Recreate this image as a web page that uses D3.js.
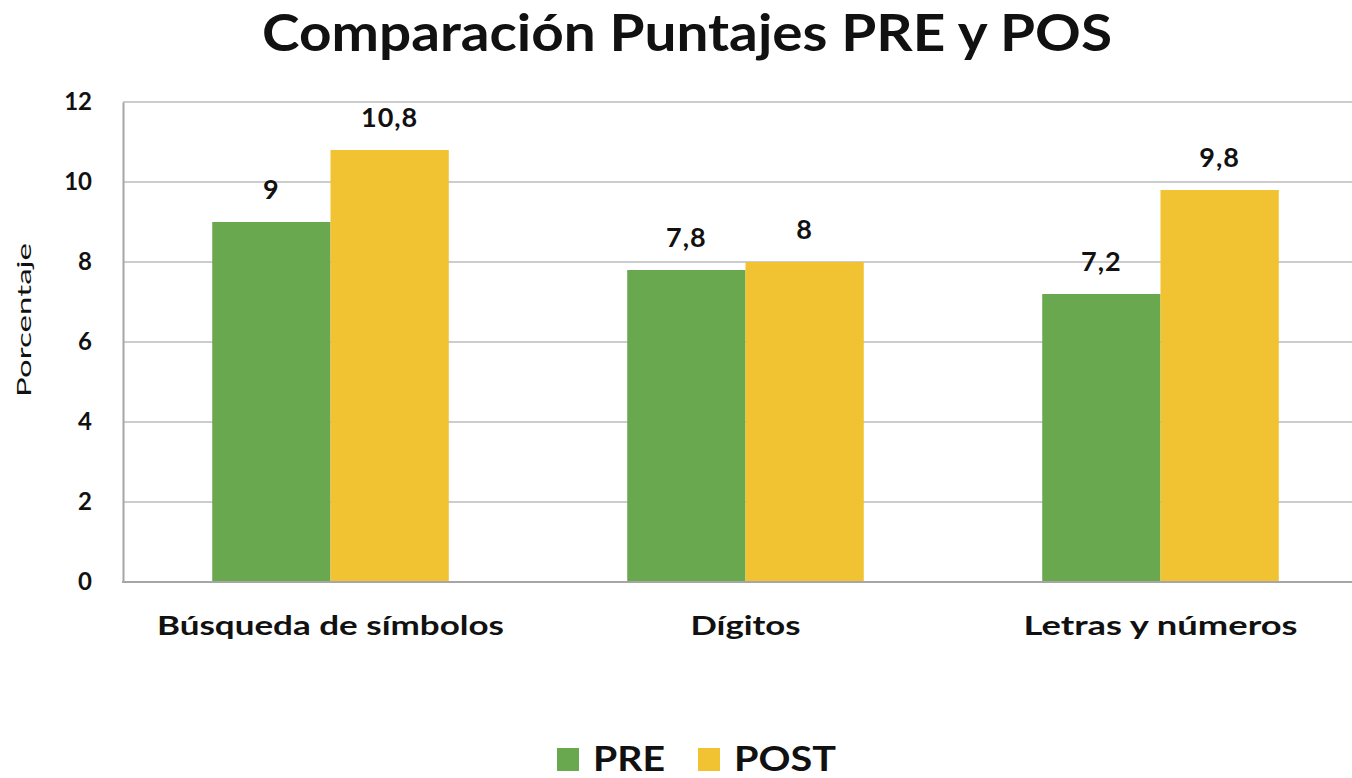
<!DOCTYPE html>
<html>
<head>
<meta charset="utf-8">
<script src="https://cdn.jsdelivr.net/npm/d3@7"></script>
<style>
  body { margin: 0; background: #fff; }
  text { font-family: "Lato", "Noto Sans", sans-serif; fill: #111; }
</style>
</head>
<body>
<div id="chart"></div>
<script>
// data
var categories = ["Búsqueda de símbolos", "Dígitos", "Letras y números"];
var series = ["PRE", "POST"];
var preValues = [9, 7.8, 7.2];
var postValues = [10.8, 8, 9.8];
var yTicks = [0, 2, 4, 6, 8, 10, 12];
var colors = ["#6aa84f", "#f1c232"];

var width = 1352, height = 778;

var svg = d3.select("#chart")
    .append("svg")
    .attr("width", width)
    .attr("height", height);

// plot runs slightly past the right edge, like the original
var x0 = d3.scaleBand()
    .domain(categories)
    .range([123, 1368])
    .paddingInner(0.43)
    .paddingOuter(0.215);

var x1 = d3.scaleBand()
    .domain(series)
    .range([0, x0.bandwidth()]);

var y = d3.scaleLinear()
    .domain([0, 12])
    .range([582, 102]);

var color = d3.scaleOrdinal().domain(series).range(colors);

// the original picture looks stretched sideways, so wide texts get a fixed length
var catLen = { "Búsqueda de símbolos": 347, "Dígitos": 110, "Letras y números": 274 };

// gridlines
svg.append("g")
    .selectAll("line")
    .data(yTicks)
    .enter()
    .append("line")
    .attr("x1", 123)
    .attr("x2", width)
    .attr("y1", function(d) { return y(d); })
    .attr("y2", function(d) { return y(d); })
    .attr("stroke", "#cccccc")
    .attr("stroke-width", 2);

// bars
var rows = categories.map(function(c, i) {
    return { cat: c, vals: [ { key: "PRE", value: preValues[i] }, { key: "POST", value: postValues[i] } ] };
});

var groups = svg.append("g")
    .selectAll("g")
    .data(rows)
    .enter()
    .append("g")
    .attr("transform", function(d) { return "translate(" + x0(d.cat) + ",0)"; });

groups.selectAll("rect")
    .data(function(d) { return d.vals; })
    .enter()
    .append("rect")
    .attr("x", function(d) { return x1(d.key); })
    .attr("y", function(d) { return y(d.value); })
    .attr("width", x1.bandwidth())
    .attr("height", function(d) { return y(0) - y(d.value); })
    .attr("fill", function(d) { return color(d.key); });

// value labels
groups.selectAll("text")
    .data(function(d) { return d.vals; })
    .enter()
    .append("text")
    .attr("x", function(d) { return x1(d.key) + x1.bandwidth() / 2; })
    .attr("y", function(d) { return y(d.value) - 23; })
    .attr("text-anchor", "middle")
    .style("font-size", "27px")
    .style("font-weight", "bold")
    .style("letter-spacing", "1px")
    .text(function(d) { return String(d.value).replace(".", ","); });

// axis frame (left + bottom)
var yAxis = d3.axisLeft(y).tickValues(yTicks).tickSize(0).tickPadding(31);
var ya = svg.append("g")
    .attr("transform", "translate(123,0)")
    .call(yAxis);
ya.select(".domain").attr("stroke", "#a6a6a6").attr("stroke-width", 2);
ya.selectAll("text")
    .style("font-size", "24px")
    .style("font-weight", "bold")
    .attr("fill", "#111");

svg.append("line")
    .attr("x1", 122).attr("x2", width)
    .attr("y1", y(0)).attr("y2", y(0))
    .attr("stroke", "#a6a6a6")
    .attr("stroke-width", 2);

// category labels
svg.append("g")
    .selectAll("text")
    .data(categories)
    .enter()
    .append("text")
    .attr("x", function(d) { return x0(d) + x0.bandwidth() / 2; })
    .attr("y", 635)
    .attr("text-anchor", "middle")
    .attr("textLength", function(d) { return catLen[d]; })
    .attr("lengthAdjust", "spacingAndGlyphs")
    .style("font-size", "27px")
    .style("font-weight", "bold")
    .text(function(d) { return d; });

// y axis title
svg.append("text")
    .attr("transform", "translate(31,320) rotate(-90)")
    .attr("text-anchor", "middle")
    .attr("textLength", 154)
    .attr("lengthAdjust", "spacingAndGlyphs")
    .style("font-size", "20px")
    .text("Porcentaje");

// chart title
svg.append("text")
    .attr("x", 687)
    .attr("y", 51)
    .attr("text-anchor", "middle")
    .attr("textLength", 850)
    .attr("lengthAdjust", "spacingAndGlyphs")
    .style("font-size", "51px")
    .style("font-weight", "bold")
    .text("Comparación Puntajes PRE y POS");

// legend
var legendX = [557, 698];
var legendLen = [72, 102];
var legend = svg.append("g")
    .selectAll("g")
    .data(series)
    .enter()
    .append("g")
    .attr("transform", function(d, i) { return "translate(" + legendX[i] + ",748)"; });

legend.append("rect")
    .attr("width", 22)
    .attr("height", 23)
    .attr("fill", function(d) { return color(d); });

legend.append("text")
    .attr("x", 36)
    .attr("y", 23)
    .attr("textLength", function(d, i) { return legendLen[i]; })
    .attr("lengthAdjust", "spacingAndGlyphs")
    .style("font-size", "35px")
    .style("font-weight", "bold")
    .text(function(d) { return d; });
</script>
</body>
</html>
